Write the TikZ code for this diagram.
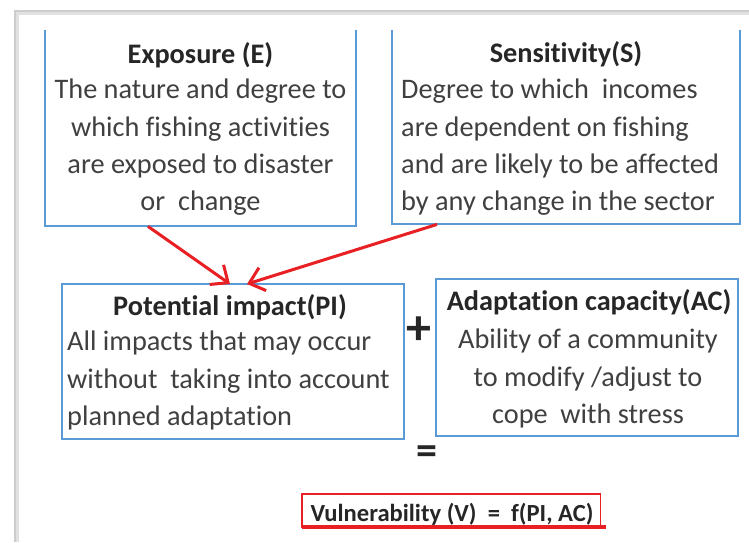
\documentclass[tikz,border=0pt]{standalone}
\usepackage{fontspec}
\setmainfont{Carlito}[Ligatures=NoCommon]
\usetikzlibrary{arrows.meta}
\definecolor{boxblue}{RGB}{91,155,213}
\definecolor{arrred}{RGB}{232,32,36}
\definecolor{txtgray}{RGB}{64,64,64}
\definecolor{framegray}{RGB}{205,205,205}
\begin{document}
\begin{tikzpicture}[x=1pt,y=-1pt,
  boxnode/.style={draw=none, inner sep=0pt, anchor=north west},
  boxside/.style={draw=boxblue, line width=2pt},
  ttl/.style={inner sep=0pt, anchor=base, text=black!85, font=\fontsize{28.3}{37.3}\selectfont\bfseries},
  body/.style={inner sep=0pt, text=txtgray, font=\fontsize{28.3}{37.3}\selectfont},
  redarrow/.style={draw=arrred, line width=3pt, -{Straight Barb[length=14pt, width=24pt]}},
  sym/.style={inner sep=0pt, text=black!85}
]
\useasboundingbox (0,0) rectangle (749,542);
\fill[white] (0,0) rectangle (749,542);
% outer frame
\draw[framegray!60, line width=3pt] (17,542) -- (17,13) -- (749,13);
\draw[framegray, line width=1.5pt] (15,542) -- (15,11) -- (749,11);

% Exposure box
\node[boxnode, minimum width=311, minimum height=196] (E) at (45,30) {};
\draw[boxside] (E.north west) |- (E.south east) -- (E.north east);
\node[ttl] (Et) at (200.5,63) {Exposure (E)};
\node[body, anchor=north, align=center] (Eb) at (200.5,79)
  {The nature and degree to\\which fishing activities\\are exposed to disaster\\or\ \ change};

% Sensitivity box
\node[boxnode, minimum width=348, minimum height=194] (S) at (392,30) {};
\draw[boxside] (S.north west) |- (S.south east) -- (S.north east);
\node[ttl] (St) at (566,62) {Sensitivity(S)};
\node[body, anchor=north west, align=left] (Sb) at (401,79)
  {Degree to which\ \ incomes\\are dependent on fishing\\and are likely to be affected\\by any change in the sector};

% Potential impact box
\node[boxnode, minimum width=342, minimum height=155] (PI) at (62,284) {};
\draw[boxside] (PI.north west) rectangle (PI.south east);
\node[ttl] (PIt) at (230,315) {Potential impact(PI)};
\node[body, anchor=north west, align=left] (PIb) at (67,331)
  {All impacts that may occur\\without\ \ taking into account\\planned adaptation};

% Adaptation capacity box
\node[boxnode, minimum width=302, minimum height=157] (AC) at (436,279) {};
\draw[boxside] (AC.north west) rectangle (AC.south east);
\node[ttl] (ACt) at (589,310) {Adaptation capacity(AC)};
\node[body, anchor=north, align=center] (ACb) at (588,329)
  {Ability of a community\\to modify /adjust to\\cope\ \ with stress};

% operators
\node[sym, font=\fontsize{50}{50}\selectfont\bfseries] (plus) at (419,331) {+};
\node[sym, font=\fontsize{42}{42}\selectfont\bfseries] (eq) at (427,455) {=};

% Vulnerability box
\node[boxnode, minimum width=298, minimum height=33] (V) at (302,494) {};
\draw[draw=arrred, line width=1.8pt] (V.south west) rectangle (V.north east);
\draw[draw=arrred, line width=4pt] (V.south west) -- ([xshift=6pt]V.south east);
\node[inner sep=0pt, anchor=base, text=black!85, font=\fontsize{24.6}{30}\selectfont\bfseries] (Vt) at (452,521)
  {Vulnerability (V)\ \ =\ \ f(PI, AC)};

% arrows
\draw[redarrow] ([xshift=103pt]E.south west) -- ([xshift=168pt]PI.north west);
\draw[redarrow] ([xshift=45pt]S.south west) -- ([xshift=185pt]PI.north west);
\end{tikzpicture}
\end{document}
